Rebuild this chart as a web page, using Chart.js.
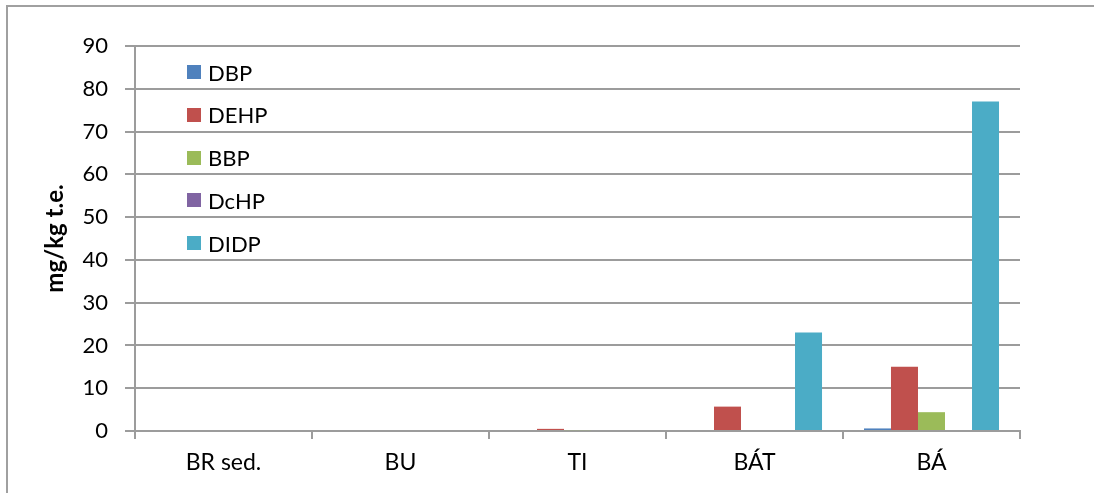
<!DOCTYPE html>
<html>
<head>
<meta charset="utf-8">
<script src="https://cdn.jsdelivr.net/npm/chart.js@4/dist/chart.umd.min.js"></script>
<style>
  html, body { margin: 0; padding: 0; background: #fff; overflow: hidden; }
  #wrap { position: relative; width: 1094px; height: 493px; overflow: hidden; }
  #frame { position: absolute; left: 6px; top: 5px; width: 1200px; height: 600px;
           border: 2px solid #a0a0a0; box-sizing: border-box; }
  #c { position: absolute; left: 0; top: 0; }
  #legend { position: absolute; left: 187px; top: 58px; font-family: Lato, "Open Sans", sans-serif;
            font-size: 22px; color: #000; }
  .item { position: absolute; left: 0; height: 28px; display: flex; align-items: center; white-space: nowrap; }
  .sw { width: 14px; height: 14px; margin-right: 7px; }
</style>
</head>
<body>
<div id="wrap">
  <div id="frame"></div>
  <canvas id="c" width="1094" height="493"></canvas>
  <div id="legend"></div>
</div>
<script>
// Sampling sites and phthalate concentrations (mg/kg dry matter)
const categories = ['BR sed.', 'BU', 'TI', 'BÁT', 'BÁ'];
const seriesNames = ['DBP', 'DEHP', 'BBP', 'DcHP', 'DIDP'];
const dbp  = [0, 0, 0,   0,   0.6];
const dehp = [0, 0, 0.5, 5.7, 15];
const bbp  = [0, 0, 0.2, 0,   4.4];
const dchp = [0, 0, 0,   0,   0];
const didp = [0, 0, 0,   23,  77];
const seriesColors = ['#4F81BD', '#C0504D', '#9BBB59', '#8064A2', '#4BACC6'];
const yTicks = [0, 10, 20, 30, 40, 50, 60, 70, 80, 90];

const values = [dbp, dehp, bbp, dchp, didp];
const FONT = 'Lato, "Open Sans", sans-serif';
const GRID = '#9c9c9c';

const chart = new Chart(document.getElementById('c'), {
  type: 'bar',
  data: {
    labels: categories,
    datasets: seriesNames.map((name, i) => ({
      label: name,
      data: values[i],
      backgroundColor: seriesColors[i],
      borderWidth: 0,
      categoryPercentage: 0.763,
      barPercentage: 1.0
    }))
  },
  options: {
    responsive: false,
    devicePixelRatio: 1,
    animation: false,
    layout: { padding: { top: 46, right: 74, left: 0, bottom: 0 } },
    plugins: { legend: { display: false }, tooltip: { enabled: false } },
    scales: {
      x: {
        offset: true,
        grid: {
          offset: true,
          drawOnChartArea: true,
          color: ctx => (ctx.index === categories.length ? GRID : 'rgba(0,0,0,0)'),
          tickColor: GRID,
          lineWidth: 2,
          tickLength: 8
        },
        border: { color: GRID, width: 2 },
        ticks: { color: '#000', font: { family: FONT, size: 23 }, padding: 10 },
        afterFit: s => { s.height = 62; }
      },
      y: {
        min: yTicks[0],
        max: yTicks[yTicks.length - 1],
        afterBuildTicks: s => { s.ticks = yTicks.map(v => ({ value: v })); },
        grid: { color: GRID, lineWidth: 2, tickLength: 10 },
        border: { color: GRID, width: 2 },
        ticks: { color: '#000', font: { family: FONT, size: 22 }, padding: 17 },
        title: {
          display: true,
          text: 'mg/kg t.e.',
          color: '#000',
          font: { family: FONT, size: 24, weight: 'bold' },
          padding: { top: 41, bottom: 0 }
        },
        afterFit: s => { s.width = 135; }
      }
    }
  }
});

// Legend boxes built from the dataset names and colours
const legend = document.getElementById('legend');
chart.data.datasets.forEach((ds, i) => {
  const item = document.createElement('div');
  item.className = 'item';
  item.style.top = (i * 42.8) + 'px';
  const sw = document.createElement('div');
  sw.className = 'sw';
  sw.style.background = ds.backgroundColor;
  const tx = document.createElement('span');
  tx.textContent = ds.label;
  item.appendChild(sw);
  item.appendChild(tx);
  legend.appendChild(item);
});
</script>
</body>
</html>
